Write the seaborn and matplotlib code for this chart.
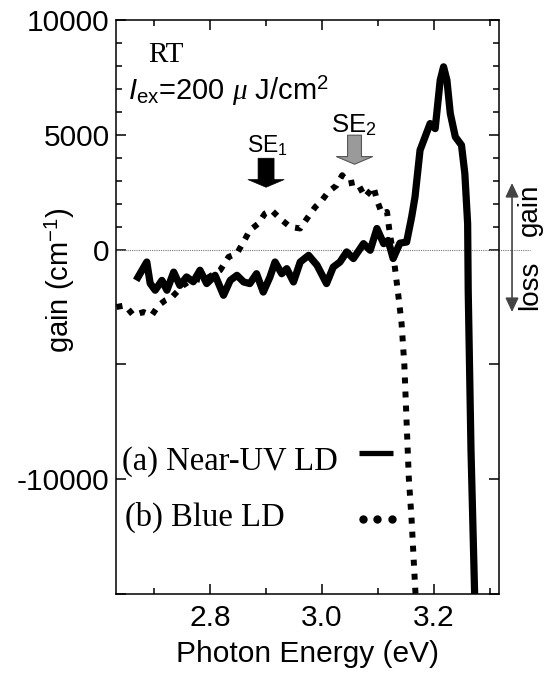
import matplotlib
matplotlib.use("Agg")
import matplotlib.pyplot as plt
from matplotlib.ticker import FixedLocator
import seaborn as sns
import numpy as np

# ---- data ----
uv_energy = [2.668, 2.687, 2.693, 2.702, 2.714, 2.723, 2.735, 2.746, 2.758, 2.770,
             2.782, 2.794, 2.809, 2.824, 2.836, 2.848, 2.860, 2.871, 2.883, 2.895,
             2.907, 2.916, 2.928, 2.937, 2.949, 2.961, 2.976, 2.991, 3.008, 3.020,
             3.032, 3.044, 3.056, 3.074, 3.086, 3.098, 3.110, 3.118, 3.127, 3.139,
             3.151, 3.160, 3.166, 3.175, 3.184, 3.193, 3.202, 3.211, 3.217, 3.223,
             3.229, 3.238, 3.249, 3.255, 3.260, 3.261, 3.266, 3.273]
uv_gain = [-1340, -540, -1470, -1770, -1340, -1770, -980, -1560, -1190, -1400,
           -900, -1480, -1120, -1990, -1340, -1120, -1410, -1480, -1050, -1850,
           -1190, -540, -1050, -830, -1410, -540, -250, -680, -1480, -760,
           -540, -100, -390, 260, -30, 920, 260, 400, -390, 280,
           330, 1420, 2290, 4330, 4910, 5490, 5270, 7380, 7960, 7380,
           5930, 4910, 4550, 3310, 1130, -1770, -8750, -15500]

blue_energy = [2.633, 2.648, 2.663, 2.681, 2.696, 2.708, 2.720, 2.732, 2.752, 2.770,
               2.788, 2.803, 2.818, 2.833, 2.848, 2.863, 2.871, 2.886, 2.898, 2.910,
               2.925, 2.943, 2.961, 2.973, 2.988, 3.000, 3.011, 3.026, 3.036, 3.047,
               3.062, 3.077, 3.092, 3.098, 3.107, 3.116, 3.121, 3.127, 3.136, 3.142,
               3.147, 3.151, 3.155, 3.160, 3.164, 3.168]
blue_gain = [-2500, -2430, -2860, -2720, -2860, -2430, -2210, -2070, -1560, -1260,
             -1340, -1120, -900, -320, -170, 480, 840, 1130, 1570, 1710,
             1350, 990, 920, 1350, 1860, 2150, 2510, 2800, 3240, 2880,
             2950, 2290, 2730, 2150, 1570, 1640, 700, -170, -1950, -3210,
             -5040, -7530, -9970, -11800, -13680, -15500]

x_major = [2.8, 3.0, 3.2]
x_minor = [2.7, 2.9, 3.1, 3.3]
x_labels = ["2.8", "3.0", "3.2"]
y_major = [-15000, -10000, -5000, 0, 5000, 10000]
y_major_labels = ["", "-10000", "", "0", "5000", "10000"]
y_minor = [1000, 2000, 3000, 4000, 6000, 7000, 8000, 9000]

legend_labels = ["(a) Near-UV LD", "(b) Blue LD"]

# ---- style ----
sns.set_theme(style="ticks")
plt.rcParams["font.family"] = ["Liberation Sans", "DejaVu Sans"]
plt.rcParams["mathtext.fontset"] = "custom"
plt.rcParams["mathtext.rm"] = "Liberation Sans"
plt.rcParams["mathtext.it"] = "Liberation Serif:italic"
plt.rcParams["mathtext.sf"] = "Liberation Sans:italic"
plt.rcParams["mathtext.bf"] = "Liberation Sans:bold"
for k in ["text.color", "axes.labelcolor", "xtick.color", "ytick.color",
          "xtick.labelcolor", "ytick.labelcolor", "axes.edgecolor"]:
    plt.rcParams[k] = "black"

fig = plt.figure(figsize=(5.44, 6.74), dpi=100)
ax = fig.add_axes([116 / 544, 80 / 674, 383 / 544, 574 / 674])

sns.lineplot(x=uv_energy, y=uv_gain, ax=ax, color="black", linewidth=5.2,
             estimator=None, sort=False, solid_joinstyle="round", solid_capstyle="butt", zorder=3)
sns.lineplot(x=blue_energy, y=blue_gain, ax=ax, color="black", linewidth=4.3,
             estimator=None, sort=False, zorder=3)
ax.lines[-1].set_linestyle((0, (1, 1.35)))
ax.lines[-1].set_dash_capstyle("butt")

ax.set_xlim(2.632, 3.316)
ax.set_ylim(-15000, 10000)

# zero line (extends beyond the right spine)
ax.axhline(0, xmin=0, xmax=1.081, color="#777777", lw=0.8, ls=(0, (1, 1)),
           clip_on=False, zorder=1)

# ticks
ax.xaxis.set_major_locator(FixedLocator(x_major))
ax.xaxis.set_minor_locator(FixedLocator(x_minor))
ax.set_xticklabels(x_labels)
ax.yaxis.set_major_locator(FixedLocator(y_major))
ax.set_yticklabels(y_major_labels)
ax.yaxis.set_minor_locator(FixedLocator(y_minor))
ax.tick_params(which="both", direction="in", top=True, right=True, width=1.1,
               color="black", labelcolor="black", labelsize=21.5)
ax.tick_params(which="major", length=7.5)
ax.tick_params(which="minor", length=4.3)
ax.tick_params(axis="x", which="both", pad=7.5)
ax.tick_params(axis="y", which="both", pad=4.5)
for s in ax.spines.values():
    s.set_linewidth(1.1)
    s.set_color("black")

ax.set_xlabel("Photon Energy (eV)", fontsize=21.5, labelpad=5.5, color="black")
ax.set_ylabel(r"gain (cm$^{-1}$)", fontsize=21, color="black")
ax.yaxis.set_label_coords(-0.102, 0.547)

# annotations
ax.text(0.0836, 0.9268, "RT", transform=ax.transAxes, fontsize=21,
        family="Liberation Serif", ha="left", va="baseline")
ax.text(0.0313, 0.8606, r"$\mathsf{I}_{\mathrm{ex}}$=200 $\mu$ J/cm$^{2}$",
        transform=ax.transAxes, fontsize=21, ha="left", va="baseline")

ax.text(2.8655, 4241, r"SE$_1$", fontsize=16.5, ha="left", va="baseline")
ax.text(3.016, 5126, r"SE$_2$", fontsize=18.5, ha="left", va="baseline")

ax.annotate("", xy=(2.9, 2716), xytext=(2.9, 3979),
            arrowprops=dict(arrowstyle="simple,head_length=5.5,head_width=26,tail_width=11.5",
                            mutation_scale=1, fc="black", ec="black", lw=0.5,
                            shrinkA=0, shrinkB=0))
ax.annotate("", xy=(3.058, 3718), xytext=(3.058, 4982),
            arrowprops=dict(arrowstyle="simple,head_length=5.5,head_width=26,tail_width=10",
                            mutation_scale=1, fc="#9a9a9a", ec="#555555", lw=0.8,
                            shrinkA=0, shrinkB=0))

# gain / loss arrow outside the axes
ax.annotate("", xy=(1.034, 0.716), xytext=(1.034, 0.4913), xycoords="axes fraction",
            textcoords="axes fraction", annotation_clip=False,
            arrowprops=dict(arrowstyle="<|-|>,head_length=8.5,head_width=4",
                            mutation_scale=1, color="#444444", lw=1.2,
                            shrinkA=0, shrinkB=0))
ax.text((537 - 116) / 383, (594 - 210) / 574, "gain", transform=ax.transAxes, rotation=90,
        rotation_mode="anchor", ha="center", va="baseline", fontsize=20, clip_on=False)
ax.text((537 - 116) / 383, (594 - 285) / 574, "loss", transform=ax.transAxes, rotation=90,
        rotation_mode="anchor", ha="center", va="baseline", fontsize=20, clip_on=False)

# key (label text followed by line sample)
ax.text(0.0157, 0.216, legend_labels[0], transform=ax.transAxes, fontsize=23.5,
        family="Liberation Serif", ha="left", va="baseline")
ax.text(0.0235, 0.1185, legend_labels[1], transform=ax.transAxes, fontsize=23.5,
        family="Liberation Serif", ha="left", va="baseline")
ax.plot([0.634, 0.723], [0.2456, 0.2456], transform=ax.transAxes, color="black",
        lw=3.8, solid_capstyle="butt")
ax.plot([0.6457, 0.6826, 0.7196], [0.1307, 0.1307, 0.1307], transform=ax.transAxes,
        ls="none", marker="o", markersize=5, color="black")

fig.savefig("out.png", dpi=100)
